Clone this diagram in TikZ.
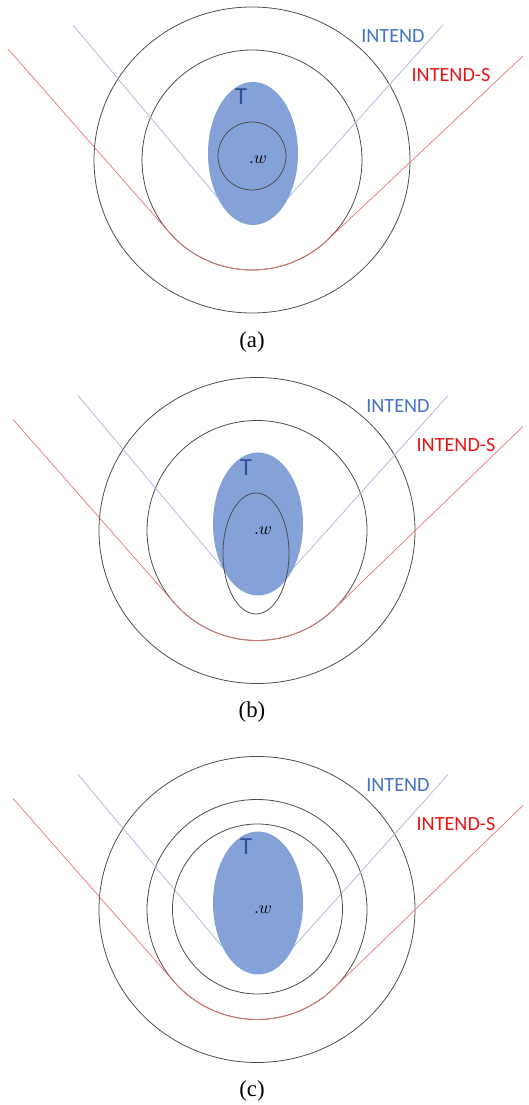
\documentclass[tikz,border=0pt]{standalone}
\usepackage{fontspec}
\newfontfamily\calfont{Carlito}
\newfontfamily\capfont{Liberation Serif}
\definecolor{tfill}{RGB}{132,162,216}
\definecolor{tdark}{RGB}{47,82,150}
\definecolor{intendblue}{RGB}{68,114,196}
\definecolor{intendred}{RGB}{235,20,20}
\definecolor{lineblue}{RGB}{170,180,222}
\definecolor{linered}{RGB}{232,115,115}
\tikzset{
  ring/.style={draw=black!70, line width=0.45pt},
  intendline/.style={draw=lineblue, line width=0.4pt},
  intendsline/.style={draw=linered, line width=0.4pt},
  tlabel/.style={font=\calfont\fontsize{14}{14}\selectfont, text=tdark, inner sep=0pt},
  blabel/.style={font=\calfont\fontsize{11.5}{12}\selectfont, text=intendblue, inner sep=0pt},
  rlabel/.style={font=\calfont\fontsize{11.5}{12}\selectfont, text=intendred, inner sep=0pt},
  caplabel/.style={font=\capfont\fontsize{13}{15}\selectfont, inner sep=0pt},
}

\begin{document}
\begin{tikzpicture}[x=0.02cm, y=0.02cm]
\useasboundingbox (0,0) rectangle (528,1105);

% the three panels share rings, cones and T
\foreach \p/\cx/\cy in {a/252/945, b/257/574.5, c/257/195.5}{
  \begin{scope}[shift={(\cx,\cy)}]
    \draw[ring] (0,0) ellipse [x radius=158, y radius=153];
    \draw[ring] (0,0) circle [radius=110];
    \draw[intendline] (-179,135) -- (-35,-37);
    \draw[intendline] (36,-38) -- (191,135);
    \draw[intendsline] (-244,111) -- (221.3:110)
      arc[start angle=221.3, end angle=314, radius=110] -- (523-\cx,104);
    \fill[tfill] (1,6.5) ellipse [x radius=45, y radius=71.5];
    \node[tlabel] (t\p) at (-11,63) {T};
    \node[inner sep=0pt] (w\p) at (6,0) {$.w$};
    \node[blabel] (intend\p) at (141,124) {INTEND};
    \node[rlabel] (intends\p) at (199,85) {INTEND-S};
    \node[caplabel] (cap\p) at (252-\cx,-182) {(\p)};
  \end{scope}
}

% (a) small circle round w
\draw[ring] (252,949) circle [radius=34];
% (b) narrow ellipse reaching below T
\draw[ring] (256,551.5) ellipse [x radius=33, y radius=60.5];
% (c) third ring
\draw[ring] (257.5,196) circle [radius=85];

\end{tikzpicture}
\end{document}
